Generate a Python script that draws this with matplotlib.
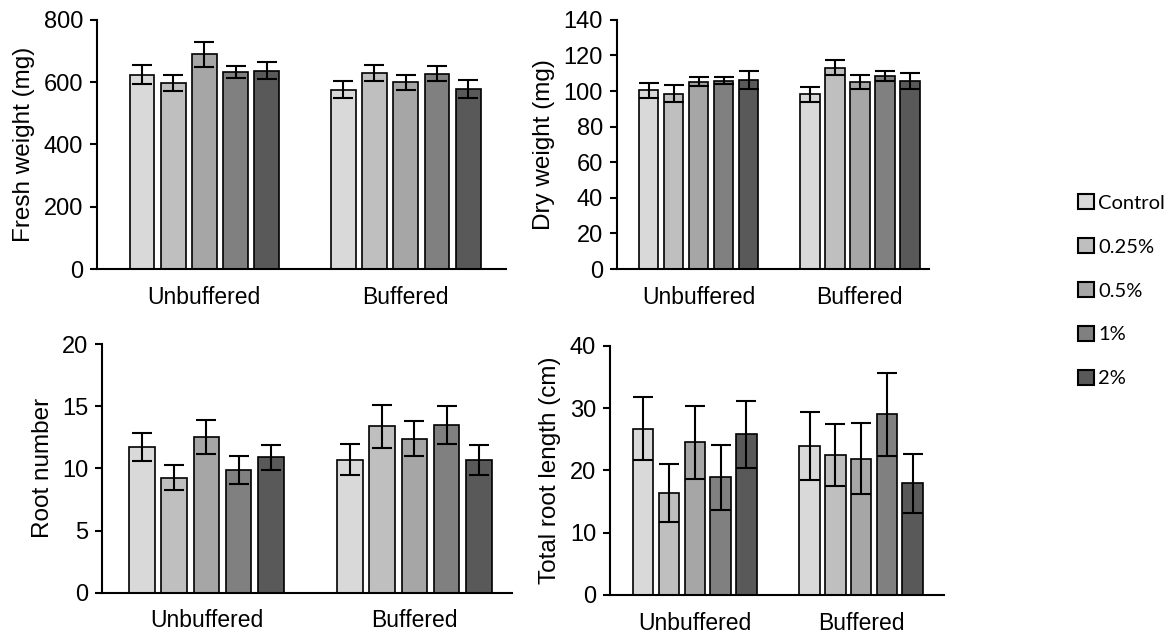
import numpy as np
import matplotlib
matplotlib.use("Agg")
from matplotlib import pyplot as plt
from matplotlib.patches import Patch

groups = ["Unbuffered", "Buffered"]
treatments = ["Control", "0.25%", "0.5%", "1%", "2%"]
colors = ["#D9D9D9", "#BFBFBF", "#A6A6A6", "#808080", "#595959"]

# rows = treatments, cols = (Unbuffered, Buffered)
fresh_mean = [[624, 576], [597, 628], [689, 600], [632, 627], [637, 578]]
fresh_err = [[30, 28], [27, 26], [39, 24], [19, 25], [27, 29]]

dry_mean = [[100.3, 98.2], [98.6, 113.2], [105.3, 105.1], [105.9, 108.5], [106.3, 105.7]]
dry_err = [[4.0, 4.3], [4.6, 4.0], [2.7, 4.1], [2.1, 2.8], [5.0, 4.5]]

rootn_mean = [[11.7, 10.7], [9.25, 13.4], [12.5, 12.4], [9.9, 13.5], [10.9, 10.65]]
rootn_err = [[1.14, 1.23], [1.02, 1.72], [1.37, 1.4], [1.12, 1.55], [1.0, 1.2]]

rootl_mean = [[26.7, 23.9], [16.4, 22.5], [24.5, 21.9], [18.9, 29.0], [25.8, 17.9]]
rootl_err = [[5.05, 5.4], [4.65, 5.0], [5.9, 5.7], [5.2, 6.7], [5.4, 4.7]]

plt.rcParams['font.family'] = ['Liberation Sans', 'DejaVu Sans']

fig = plt.figure(figsize=(11.73, 6.39), dpi=100)

panels = [
    ([0.0827, 0.579, 0.349, 0.390], fresh_mean, fresh_err, "Fresh weight (mg)", 800, 200, (-0.533, 1.50)),
    ([0.526, 0.579, 0.266, 0.390], dry_mean, dry_err, "Dry weight (mg)", 140, 20, (-0.506, 1.43)),
    ([0.087, 0.0725, 0.3495, 0.389], rootn_mean, rootn_err, "Root number", 20, 5, (-0.502, 1.469)),
    ([0.520, 0.0689, 0.285, 0.390], rootl_mean, rootl_err, "Total root length (cm)", 40, 10, (-0.51, 1.50)),
]

slot = 0.155
width = 0.123
x = np.arange(len(groups))

for rect, means, errs, ylabel, ymax, ystep, xlim in panels:
    ax = fig.add_axes(rect)
    for i, t in enumerate(treatments):
        offs = (i - 2) * slot
        ax.bar(x + offs, means[i], width, color=colors[i], edgecolor="black",
               linewidth=1.2, zorder=2)
        ax.errorbar(x + offs, means[i], yerr=errs[i], fmt="none", ecolor="black",
                    elinewidth=1.5, capsize=7, capthick=1.5, zorder=3)
    ax.set_ylim(0, ymax)
    ax.set_yticks(np.arange(0, ymax + ystep / 2, ystep))
    ax.set_xlim(*xlim)
    ax.set_xticks(x)
    ax.set_xticklabels(groups)
    ax.tick_params(axis="x", length=0, pad=12, labelsize=16.5)
    ax.tick_params(axis="y", length=5, width=1.5, labelsize=17, pad=5)
    for s in ["top", "right"]:
        ax.spines[s].set_visible(False)
    for s in ["left", "bottom"]:
        ax.spines[s].set_linewidth(1.5)
    ax.set_ylabel(ylabel, fontsize=17.5, labelpad=6)

handles = [Patch(facecolor=c, edgecolor="black", linewidth=1.5) for c in colors]
fig.legend(handles, treatments, loc="upper left", bbox_to_anchor=(1070 / 1173, 1 - 186 / 639),
           frameon=False, prop={"family": "Lato", "size": 14.5}, handlelength=0.8,
           handleheight=0.8, handletextpad=0.2, labelspacing=1.3, borderaxespad=0)

fig.savefig("out.png", dpi=100)
